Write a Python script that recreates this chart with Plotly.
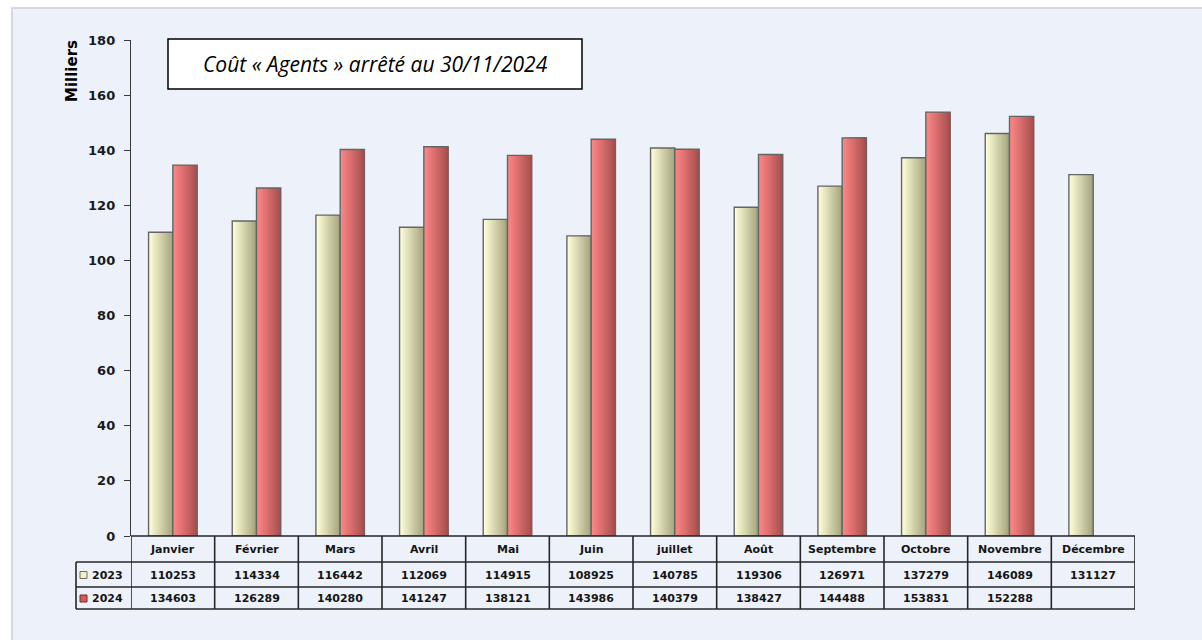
import plotly.graph_objects as go

# Monthly agent cost (euros)
months = ["Janvier", "Février", "Mars", "Avril", "Mai", "Juin", "juillet",
          "Août", "Septembre", "Octobre", "Novembre", "Décembre"]
cost_2023 = [110253, 114334, 116442, 112069, 114915, 108925, 140785,
             119306, 126971, 137279, 146089, 131127]
cost_2024 = [134603, 126289, 140280, 141247, 138121, 143986, 140379,
             138427, 144488, 153831, 152288, None]
y_ticks = [0, 20, 40, 60, 80, 100, 120, 140, 160, 180]

# Layout geometry (pixels)
W, H = 1202, 640
PL, PR, PT, PB = 131, 1135, 40, 536
FONT = "DejaVu Sans"
BG = "#EDF2FA"


def px_x(px):
    return (px - PL) / (PR - PL)


def px_y(py):
    return (PB - py) / (PB - PT)


def mix(c0, c1, t):
    a = [int(c0[i:i + 2], 16) for i in (1, 3, 5)]
    b = [int(c1[i:i + 2], 16) for i in (1, 3, 5)]
    return "#" + "".join(f"{round(a[k] + (b[k] - a[k]) * t):02x}" for k in range(3))


def thousands(vals):
    return [None if v is None else v / 1000 for v in vals]


fig = go.Figure()

BAR_W = 0.29
STRIPS = 14
series = [
    ("2023", cost_2023, -BAR_W, "#FDFDD6", "#A8A682"),
    ("2024", cost_2024, 0.0, "#FF8585", "#A85050"),
]

# Bars with a horizontal shading: each layer starts further right and
# covers the rest of the bar, so no seams show between the layers
for name, vals, off, c_left, c_right in series:
    yv = thousands(vals)
    for k in range(STRIPS):
        t = k / (STRIPS - 1)
        step = BAR_W / STRIPS
        fig.add_trace(go.Bar(
            x=months, y=yv, name=name, showlegend=False,
            offset=off + k * step, width=BAR_W - k * step,
            marker=dict(color=mix(c_left, c_right, t), line=dict(width=0)),
            hoverinfo="skip",
        ))
    fig.add_trace(go.Bar(
        x=months, y=yv, name=name, showlegend=False,
        offset=off, width=BAR_W,
        marker=dict(color="rgba(0,0,0,0)", line=dict(color="#656565", width=1.4)),
    ))

shapes = []
annotations = []

# Outer frame
shapes.append(dict(type="rect", xref="paper", yref="paper", layer="below",
                   x0=px_x(12), x1=px_x(1215), y0=px_y(660), y1=px_y(8),
                   fillcolor=BG, line=dict(color="#C9CED8", width=1.5)))

# Title box
shapes.append(dict(type="rect", xref="paper", yref="paper",
                   x0=px_x(168), x1=px_x(582), y0=px_y(89), y1=px_y(39),
                   fillcolor="white", line=dict(color="black", width=1.5)))
annotations.append(dict(xref="paper", yref="paper", x=px_x(375), y=px_y(64),
                        text="<i>Coût « Agents » arrêté au 30/11/2024</i>",
                        showarrow=False, xanchor="center", yanchor="middle",
                        font=dict(family="Open Sans", size=21, color="black")))

# Axis title
annotations.append(dict(xref="paper", yref="paper", x=px_x(72), y=px_y(71),
                        text="<b>Milliers</b>", textangle=-90, showarrow=False,
                        xanchor="center", yanchor="middle",
                        font=dict(family=FONT, size=15, color="black")))

# Data table grid
GRID = dict(color="#262626", width=1.6)
row_lines = [562, 587, 609]
shapes.append(dict(type="line", xref="paper", yref="paper",
                   x0=0, x1=1, y0=px_y(536), y1=px_y(536), line=GRID))
for ry in row_lines:
    shapes.append(dict(type="line", xref="paper", yref="paper",
                       x0=px_x(76), x1=1, y0=px_y(ry), y1=px_y(ry), line=GRID))
shapes.append(dict(type="line", xref="paper", yref="paper",
                   x0=px_x(76), x1=px_x(76), y0=px_y(562), y1=px_y(609), line=GRID))
for i in range(len(months) + 1):
    shapes.append(dict(type="line", xref="x", yref="paper",
                       x0=i - 0.5, x1=i - 0.5, y0=px_y(536), y1=px_y(609), line=GRID))

TFONT = dict(family=FONT, size=11, color="#151515")
row_y = {"head": px_y(549.5), "2023": px_y(575), "2024": px_y(598.5)}
for i, m in enumerate(months):
    annotations.append(dict(xref="x", yref="paper", x=m, y=row_y["head"],
                            text=f"<b>{m}</b>", showarrow=False,
                            xanchor="center", yanchor="middle", font=TFONT))
    for key, vals in (("2023", cost_2023), ("2024", cost_2024)):
        if vals[i] is not None:
            annotations.append(dict(xref="x", yref="paper", x=m, y=row_y[key],
                                    text=f"<b>{vals[i]}</b>", showarrow=False,
                                    xanchor="center", yanchor="middle", font=TFONT))

# Row labels with colour keys
for key, fill, edge in (("2023", "#F2F2C4", "#6F6F55"), ("2024", "#D65A5A", "#6E2A2A")):
    cy = {"2023": 575, "2024": 598.5}[key]
    shapes.append(dict(type="rect", xref="paper", yref="paper",
                       x0=px_x(80), x1=px_x(87), y0=px_y(cy + 3.5), y1=px_y(cy - 3.5),
                       fillcolor=fill, line=dict(color=edge, width=1)))
    annotations.append(dict(xref="paper", yref="paper", x=px_x(90), y=row_y[key],
                            text=f"<b>{key}</b>", showarrow=False,
                            xanchor="left", yanchor="middle", font=TFONT))

fig.update_layout(
    width=W, height=H,
    margin=dict(l=PL, r=W - PR, t=PT, b=H - PB),
    paper_bgcolor="white", plot_bgcolor="rgba(0,0,0,0)",
    barmode="overlay", showlegend=False,
    shapes=shapes, annotations=annotations,
    xaxis=dict(showticklabels=False, showgrid=False, zeroline=False,
               showline=False, ticks="", range=[-0.5, len(months) - 0.5]),
    yaxis=dict(range=[0, 180], tickvals=y_ticks,
               ticktext=[f"<b>{t}</b>" for t in y_ticks],
               showgrid=False, zeroline=False, showline=True,
               linecolor="#3A3A3A", linewidth=1.4,
               ticks="outside", ticklen=6, tickcolor="#3A3A3A", tickwidth=1.4,
               ticklabelstandoff=6,
               tickfont=dict(family=FONT, size=13, color="#1A1A1A")),
)

fig.write_html("out.html")
